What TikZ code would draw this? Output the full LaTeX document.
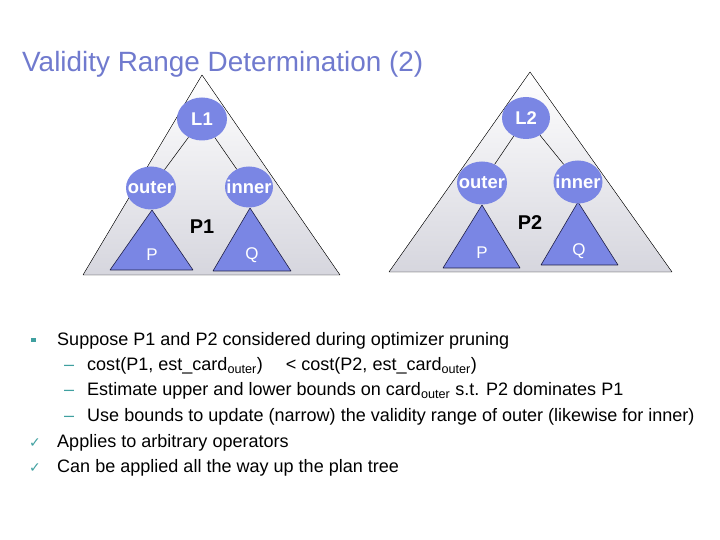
\documentclass[tikz,border=0pt]{standalone}
\usepackage{fontspec}
\setmainfont{Liberation Sans}
\newfontfamily\symbolfont{DejaVu Sans}
\usetikzlibrary{positioning,shapes.geometric}

\definecolor{titleblue}{RGB}{112,122,206}
\definecolor{opblue}{RGB}{122,134,228}
\definecolor{treegray}{RGB}{214,214,222}
\definecolor{bulletteal}{RGB}{64,160,160}
\definecolor{edgenavy}{RGB}{30,30,70}

\begin{document}
\begin{tikzpicture}[line join=bevel,
  opnode/.style={ellipse,fill=opblue,text=white,inner sep=0pt,minimum width=50bp,minimum height=43bp,font=\fontsize{18.5}{20}\selectfont\bfseries},
  plantri/.style={draw=black,line width=0.4pt,top color=white,bottom color=treegray},
  subtri/.style={draw=edgenavy,line width=0.6pt,fill=opblue},
  sublabel/.style={text=white,inner sep=0pt,font=\fontsize{17}{18}\selectfont},
  planname/.style={inner sep=0pt,font=\fontsize{20}{22}\selectfont\bfseries},
  itemtext/.style={anchor=base west,inner sep=0pt,font=\fontsize{18.1}{20}\selectfont},
  dashmark/.style={anchor=base west,inner sep=0pt,text=bulletteal,font=\fontsize{18.1}{20}\selectfont},
  checkmark/.style={inner sep=0pt,text=bulletteal,font=\symbolfont\fontsize{14}{15}\selectfont},
]
\useasboundingbox (0bp,0bp) rectangle (720bp,540bp);
%%
\node (title) at (22bp,476bp) [anchor=west,inner sep=0pt,text=titleblue,font=\fontsize{28}{32}\selectfont] {Validity Range Determination (2)};
%% plan P1
\filldraw [plantri] (83bp,265bp) -- (202bp,465bp) -- (340bp,265bp) -- cycle;
\filldraw [subtri] (110bp,270bp) -- (152bp,330bp) -- (193bp,270bp) -- cycle;
\filldraw [subtri] (213bp,269bp) -- (250bp,332bp) -- (291bp,269bp) -- cycle;
  \node (l1) at (202bp,421bp) [opnode] {\makebox[0pt]{L1}};
  \node (outer1) at (151bp,352bp) [opnode] {\makebox[0pt]{outer}};
  \node (inner1) at (249bp,353bp) [opnode,minimum width=48bp,minimum height=41bp] {\makebox[0pt]{inner}};
  \node (p1) at (202bp,313bp) [planname] {P1};
  \node (p1P) at (152bp,285bp) [sublabel] {P};
  \node (p1Q) at (252bp,285bp) [sublabel] {Q};
  \draw [black,line width=0.5pt] (l1) -- (outer1);
  \draw [black,line width=0.5pt] (l1) -- (inner1);
%% plan P2
\filldraw [plantri] (389bp,268bp) -- (530bp,468bp) -- (672bp,268bp) -- cycle;
\filldraw [subtri] (443bp,272bp) -- (482bp,335bp) -- (520bp,272bp) -- cycle;
\filldraw [subtri] (541bp,275bp) -- (578bp,338bp) -- (618bp,275bp) -- cycle;
  \node (l2) at (526bp,422bp) [opnode,minimum width=48bp,minimum height=42bp] {\makebox[0pt]{L2}};
  \node (outer2) at (482bp,357bp) [opnode] {\makebox[0pt]{outer}};
  \node (inner2) at (578bp,358bp) [opnode,minimum width=49bp] {\makebox[0pt]{inner}};
  \node (p2) at (530bp,317bp) [planname] {P2};
  \node (p2P) at (482bp,287bp) [sublabel] {P};
  \node (p2Q) at (579bp,289bp) [sublabel] {Q};
  \draw [black,line width=0.5pt] (l2) -- (outer2);
  \draw [black,line width=0.5pt] (l2) -- (inner2);
%% bullet list
\node (sq1) at (33.5bp,200bp) [fill=bulletteal,inner sep=0pt,minimum size=4.5bp] {};
\node (item1) at (57bp,194bp) [itemtext] {Suppose P1 and P2 considered during optimizer pruning};
\node (dash1) at (64bp,169bp) [dashmark] {--};
\node (item2) at (87bp,169bp) [itemtext] {cost(P1, est\_card\textsubscript{outer})\hspace{1em} < cost(P2, est\_card\textsubscript{outer})};
\node (dash2) at (64bp,144bp) [dashmark] {--};
\node (item3) at (87bp,144bp) [itemtext] {Estimate upper and lower bounds on card\textsubscript{outer} s.t. P2 dominates P1};
\node (dash3) at (64bp,118bp) [dashmark] {--};
\node (item4) at (87bp,118bp) [itemtext] {Use bounds to update (narrow) the validity range of outer (likewise for inner)};
\node (ck1) at (35bp,97bp) [checkmark] {✓};
\node (item5) at (57bp,92bp) [itemtext] {Applies to arbitrary operators};
\node (ck2) at (35bp,72bp) [checkmark] {✓};
\node (item6) at (57bp,67bp) [itemtext] {Can be applied all the way up the plan tree};
%
\end{tikzpicture}
\end{document}
